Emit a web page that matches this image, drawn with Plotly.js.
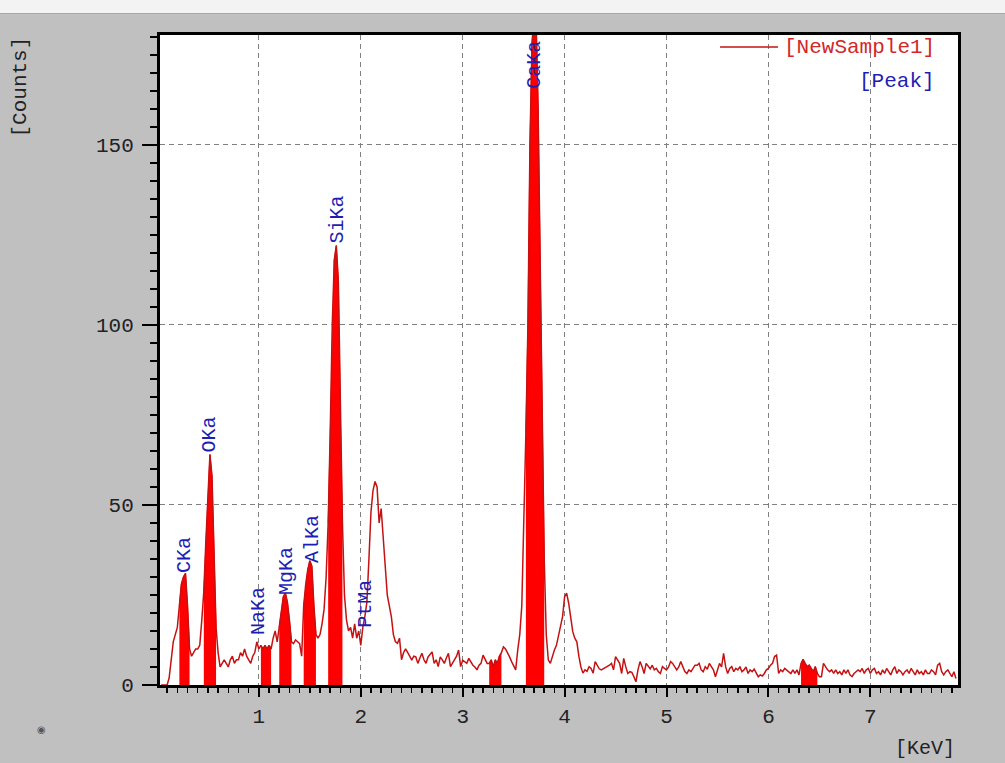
<!DOCTYPE html>
<html><head><meta charset="utf-8">
<script src="https://cdn.plot.ly/plotly-3.0.1.min.js"></script>
<style>
html,body{margin:0;padding:0;background:#c0c0c0;overflow:hidden}
#chart{width:1005px;height:763px;position:absolute;left:0;top:0}
#strip{position:absolute;left:0;top:0;width:1005px;height:13px;background:#f3f3f3;border-bottom:1px solid #a8a8a8;z-index:5}
</style></head><body>
<div id="chart"></div><div id="strip"></div>
<script>
// Energy (keV) of each spectrum channel
const energy = [
0.04,0.06,0.08,0.10,0.12,0.14,0.16,0.18,0.20,0.22,0.24,0.26,0.28,0.30,0.32,0.34,0.36,0.38,0.40,0.42,0.44,0.46,0.48,
0.50,0.52,0.54,0.56,0.58,0.60,0.62,0.64,0.66,0.68,0.70,0.72,0.74,0.76,0.78,0.80,0.82,0.84,0.86,0.88,0.90,0.92,0.94,0.96,0.98,
1.00,1.02,1.04,1.06,1.08,1.10,1.12,1.14,1.16,1.18,1.20,1.22,1.24,1.26,1.28,1.30,1.32,1.34,1.36,1.38,1.40,1.42,1.44,1.46,1.48,
1.50,1.52,1.54,1.56,1.58,1.60,1.62,1.64,1.66,1.68,1.70,1.72,1.74,1.76,1.78,1.80,1.82,1.84,1.86,1.88,1.90,1.92,1.94,1.96,1.98,
2.00,2.02,2.04,2.06,2.08,2.10,2.12,2.14,2.16,2.18,2.20,2.22,2.24,2.26,2.28,2.30,2.32,2.34,2.36,2.38,2.40,2.42,2.44,2.46,2.48,
2.50,2.52,2.54,2.56,2.58,2.60,2.62,2.64,2.66,2.68,2.70,2.72,2.74,2.76,2.78,2.80,2.82,2.84,2.86,2.88,2.90,2.92,2.94,2.96,2.98,
3.00,3.02,3.04,3.06,3.08,3.10,3.12,3.14,3.16,3.18,3.20,3.22,3.24,3.26,3.28,3.30,3.32,3.34,3.36,3.38,3.40,3.42,3.44,3.46,3.48,
3.50,3.52,3.54,3.56,3.58,3.60,3.62,3.64,3.66,3.68,3.70,3.72,3.74,3.76,3.78,3.80,3.82,3.84,3.86,3.88,3.90,3.92,3.94,3.96,3.98,
4.00,4.02,4.04,4.06,4.08,4.10,4.12,4.14,4.16,4.18,4.20,4.22,4.24,4.26,4.28,4.30,4.32,4.34,4.36,4.38,4.40,4.42,4.44,4.46,4.48,
4.50,4.52,4.54,4.56,4.58,4.60,4.62,4.64,4.66,4.68,4.70,4.72,4.74,4.76,4.78,4.80,4.82,4.84,4.86,4.88,4.90,4.92,4.94,4.96,4.98,
5.00,5.02,5.04,5.06,5.08,5.10,5.12,5.14,5.16,5.18,5.20,5.22,5.24,5.26,5.28,5.30,5.32,5.34,5.36,5.38,5.40,5.42,5.44,5.46,5.48,
5.50,5.52,5.54,5.56,5.58,5.60,5.62,5.64,5.66,5.68,5.70,5.72,5.74,5.76,5.78,5.80,5.82,5.84,5.86,5.88,5.90,5.92,5.94,5.96,5.98,
6.00,6.02,6.04,6.06,6.08,6.10,6.12,6.14,6.16,6.18,6.20,6.22,6.24,6.26,6.28,6.30,6.32,6.34,6.36,6.38,6.40,6.42,6.44,6.46,6.48,
6.50,6.52,6.54,6.56,6.58,6.60,6.62,6.64,6.66,6.68,6.70,6.72,6.74,6.76,6.78,6.80,6.82,6.84,6.86,6.88,6.90,6.92,6.94,6.96,6.98,
7.00,7.02,7.04,7.06,7.08,7.10,7.12,7.14,7.16,7.18,7.20,7.22,7.24,7.26,7.28,7.30,7.32,7.34,7.36,7.38,7.40,7.42,7.44,7.46,7.48,
7.50,7.52,7.54,7.56,7.58,7.60,7.62,7.64,7.66,7.68,7.70,7.72,7.74,7.76,7.78,7.80,7.82,7.84
];
// Counts
const counts = [
0,0,0,0,2,7,12,14,16,22,28,30,31,22,10,8,9,10,10,11,18,26,40,
54,64,58,38,16,9,5,6,7,6,5,7,8,6,7,7,9,8,10,8,7,6,8,9,12,
10,11,10,11,10,11,10,13,15,12,16,21,24.5,25.5,23,18,12,11.5,12.5,12,11.5,8,22,28,32,
34.5,33,22,14,13,14,17,21,30,45,70,100,118,122,112,75,45,25,18,15,16,13,17,13,15,
11,16,19,23,35,48,54,56.5,55,45,49,40,31,25,22,19,14,12,11.6,13,7,9,10,8.8,8,
6.9,8,7.8,6,7.5,8.8,7,6,7.8,8.5,9.2,6,7,5.1,7.8,7,6,7.5,8.8,5.1,6,6.9,8,9.7,5.1,
6.9,6.5,6,7.4,6.5,5.5,5,4.2,5.5,6,8.3,7,6,6,7,5,7,6,8,9,10.6,10,9,7.8,6.5,
5.1,4.2,9.7,14,22,43,70,100,150,178,186,185,160,118,70,35,14,7,6,8,9.7,11,13.4,16,19,
24.5,25.5,22.7,18,14.8,13,12,8,5,3.3,4.2,3.8,5.1,4.6,3.3,6.5,5.5,4.5,4.2,4.5,4.8,5.1,5.5,6,4.2,
7.9,6.9,6,3.2,7.4,5.1,3.2,3.7,3.5,2.3,0.9,4.2,6.5,5.1,3.2,6,5.1,4.5,5.5,4.2,4.6,3.7,3.2,5.1,4.6,
4.2,5,6.5,6,5.2,4.2,5,6.5,5.1,3.7,3.2,4.2,3.7,4.5,5.5,5.5,6,4.2,3.7,5.1,4.4,6,5,4.2,2.3,
4.5,6,5,8.8,5.1,3.2,4.6,5.1,3.7,4.6,4.2,5.1,3.7,4.2,5,3.2,4.2,3.7,4.4,3.2,2.3,2.8,2.5,3.2,4.2,
4.6,5.5,6,7.9,8.3,3.2,4.2,3.7,4.6,4.2,3.7,3.2,4.2,3.2,4.2,2.8,6,7.1,6,5.1,5.5,4.6,3.7,5.1,3.2,
2.3,2.3,6,5.1,4.2,3.7,4.2,3.2,4.2,3.2,3.7,2.8,4.2,3.2,4.2,2.8,2.3,3.2,3.7,4.2,3.7,4.6,3.2,4.2,4.6,
3.2,4.2,4.6,3.2,3.7,2.8,4.2,3.2,4.6,3.7,2.8,4.2,5.1,3.2,4.2,3.7,2.8,3.7,4.2,3.2,4.6,3.7,2.8,4.2,3.2,
3.7,2.8,4.2,3.2,3.2,4.2,3.7,2.8,5.5,6,3.7,2.8,3.7,4.2,3.2,2.3,3.7,1.8
];
// Energy windows of the highlighted (filled) peak regions
const peakLo = [0.21, 0.46, 1.02, 1.20, 1.44, 1.68, 3.26, 3.62, 6.32];
const peakHi = [0.32, 0.58, 1.12, 1.32, 1.56, 1.82, 3.38, 3.80, 6.48];
// Peak labels
const labelNames  = ['CKa','OKa','NaKa','MgKa','AlKa','SiKa','PtMa','CaKa'];
const labelEnergy = [0.265, 0.52, 0.99, 1.265, 1.52, 1.775, 2.05, 3.71];
const labelCounts = [30.5, 64, 13.3, 24.4, 33.3, 122, 15.3, 165];
const seriesName = '[NewSample1]';
const peakLegend = '[Peak]';
const xTitle = '[KeV]';
const yTitle = '[Counts]';

const FONT = 'Liberation Mono, Courier New, monospace';
const FS = 21;
const traces = [];
for (let k = 0; k < peakLo.length; k++) {
  const xs = [], ys = [];
  for (let i = 0; i < energy.length; i++) {
    if (energy[i] >= peakLo[k] - 1e-9 && energy[i] <= peakHi[k] + 1e-9) { xs.push(energy[i]); ys.push(counts[i]); }
  }
  traces.push({x: xs, y: ys, type: 'scatter', mode: 'lines', fill: 'tozeroy',
    fillcolor: '#ff0000', line: {color: '#ff0000', width: 1}, hoverinfo: 'skip'});
}
traces.push({x: energy, y: counts, type: 'scatter', mode: 'lines', name: seriesName,
  line: {color: '#c41212', width: 1.5}});

const annotations = [];
for (let k = 0; k < labelNames.length; k++) {
  annotations.push({x: labelEnergy[k], y: labelCounts[k], xref: 'x', yref: 'y', text: labelNames[k],
    textangle: -90, showarrow: false, xanchor: 'center', yanchor: 'bottom',
    font: {family: FONT, size: FS - 1, color: '#1e1eb4'}});
}
annotations.push({x: -0.1754, y: 1.0, xref: 'paper', yref: 'paper', text: yTitle, textangle: -90,
  showarrow: false, xanchor: 'center', yanchor: 'top', font: {family: FONT, size: FS, color: '#222'}});
annotations.push({x: 0.999, y: -0.097, xref: 'paper', yref: 'paper', text: xTitle,
  showarrow: false, xanchor: 'right', yanchor: 'middle', font: {family: FONT, size: FS - 1, color: '#222'}});
annotations.push({x: 0.974, y: 0.9815, xref: 'paper', yref: 'paper', text: seriesName,
  showarrow: false, xanchor: 'right', yanchor: 'middle', font: {family: FONT, size: FS, color: '#d22828'}});
annotations.push({x: 0.974, y: 0.9277, xref: 'paper', yref: 'paper', text: peakLegend,
  showarrow: false, xanchor: 'right', yanchor: 'middle', font: {family: FONT, size: FS, color: '#1e1eb4'}});
annotations.push({x: -0.1479, y: -0.0692, xref: 'paper', yref: 'paper', text: '◉',
  showarrow: false, xanchor: 'center', yanchor: 'middle', font: {family: 'DejaVu Sans', size: 10, color: '#555'}});

const axisFont = {family: FONT, size: FS, color: '#222'};
const layout = {
  width: 1005, height: 763,
  margin: {l: 160, r: 47, t: 35, b: 78, pad: 0},
  paper_bgcolor: '#c0c0c0', plot_bgcolor: '#ffffff',
  showlegend: false,
  xaxis: {range: [0.03, 7.86], tickmode: 'linear', tick0: 0, dtick: 1,
    ticks: 'outside', ticklen: 9, tickwidth: 2, tickcolor: '#000',
    showline: true, linecolor: '#000', linewidth: 3, mirror: true,
    showgrid: true, gridcolor: '#808080', gridwidth: 1, griddash: '5px,4px',
    zeroline: false, tickfont: axisFont, ticklabelstandoff: 1,
    minor: {dtick: 0.1, tick0: 0, ticks: 'outside', ticklen: 5, tickwidth: 1.5, tickcolor: '#000', showgrid: false}},
  yaxis: {range: [0, 180.5], tickmode: 'linear', tick0: 0, dtick: 50,
    ticks: 'outside', ticklen: 15, tickwidth: 2, tickcolor: '#000',
    showline: true, linecolor: '#000', linewidth: 3, mirror: true,
    showgrid: true, gridcolor: '#808080', gridwidth: 1, griddash: '5px,4px',
    zeroline: false, tickfont: axisFont, ticklabelstandoff: 4,
    minor: {dtick: 5, tick0: 0, ticks: 'outside', ticklen: 7, tickwidth: 1.5, tickcolor: '#000', showgrid: false}},
  shapes: [{type: 'line', xref: 'paper', yref: 'paper', x0: 0.7018, x1: 0.7744, y0: 0.9815, y1: 0.9815,
    line: {color: '#c41212', width: 1.5}}],
  annotations: annotations
};
Plotly.newPlot('chart', traces, layout, {staticPlot: true, displayModeBar: false});
</script></body></html>
